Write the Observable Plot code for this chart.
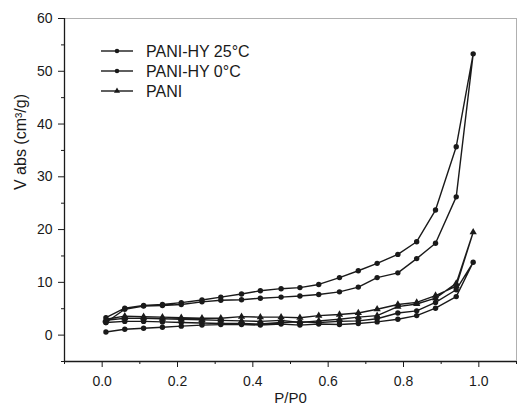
<!DOCTYPE html>
<html><head><meta charset="utf-8">
<script src="https://cdn.jsdelivr.net/npm/d3@7"></script>
<script src="https://cdn.jsdelivr.net/npm/@observablehq/plot@0.6"></script>
<style>
body{margin:0;background:#fff}
#chart{width:517px;height:409px}
</style>
</head><body><div id="chart"></div>
<script>
// Relative pressure P/P0 sampling points (shared by all branches)
const pressure = [0.01, 0.06, 0.11, 0.16, 0.21, 0.265, 0.315, 0.37, 0.42, 0.475, 0.525, 0.575, 0.63, 0.68, 0.73, 0.785, 0.835, 0.885, 0.94, 0.985];

// PANI-HY 25°C
const hy25Adsorption = [2.4, 4.9, 5.5, 5.6, 5.8, 6.3, 6.6, 6.7, 7.0, 7.2, 7.4, 7.7, 8.2, 9.1, 10.9, 11.8, 14.5, 17.4, 26.2, 53.3];
const hy25Desorption = [3.3, 5.1, 5.6, 5.8, 6.15, 6.65, 7.2, 7.8, 8.4, 8.8, 9.0, 9.6, 10.9, 12.2, 13.6, 15.3, 17.7, 23.7, 35.7, 53.3];
// PANI-HY 0°C
const hy0Adsorption = [0.6, 1.1, 1.3, 1.5, 1.7, 1.9, 2.0, 2.0, 1.9, 2.1, 1.9, 2.1, 2.0, 2.2, 2.5, 3.0, 3.7, 5.1, 7.3, 13.8];
const hy0Desorption = [2.4, 2.6, 2.6, 2.5, 2.4, 2.3, 2.2, 2.2, 2.1, 2.4, 2.5, 2.4, 2.6, 2.7, 3.1, 4.2, 4.6, 6.2, 8.6, 13.8];
// PANI
const paniAdsorption = [2.8, 3.2, 3.2, 3.1, 3.0, 2.9, 2.8, 2.7, 2.6, 2.8, 2.4, 2.7, 3.0, 3.4, 3.7, 5.4, 5.9, 7.0, 9.8, 19.5];
const paniDesorption = [3.0, 3.6, 3.5, 3.4, 3.3, 3.2, 3.2, 3.5, 3.4, 3.4, 3.3, 3.7, 3.9, 4.2, 4.9, 5.8, 6.2, 7.5, 9.3, 19.5];

const seriesNames = ["PANI-HY 25°C", "PANI-HY 0°C", "PANI"];
const seriesSymbols = ["circle", "circle", "triangle"];
const yMajorTicks = [0, 10, 20, 30, 40, 50, 60];
const yMinorTicks = [-5, 5, 15, 25, 35, 45, 55];
const xMajorTicks = [0, 0.2, 0.4, 0.6, 0.8, 1.0];
const xMinorTicks = [-0.1, 0.1, 0.3, 0.5, 0.7, 0.9, 1.1];

// Build loop paths: adsorption up, desorption back down
function loop(name, ads, des) {
  const rows = [];
  pressure.forEach((p, i) => rows.push({series: name, p, v: ads[i]}));
  for (let i = pressure.length - 2; i >= 0; i--) rows.push({series: name, p: pressure[i], v: des[i]});
  return rows;
}
const data = [
  ...loop(seriesNames[0], hy25Adsorption, hy25Desorption),
  ...loop(seriesNames[1], hy0Adsorption, hy0Desorption),
  ...loop(seriesNames[2], paniAdsorption, paniDesorption)
];

const ink = "#1a1a1a";
const font = "Liberation Sans, Arial, sans-serif";

const chart = Plot.plot({
  width: 517,
  height: 409,
  marginLeft: 64,
  marginRight: 1,
  marginTop: 18,
  marginBottom: 48,
  style: {fontFamily: font, fontSize: "14px", color: "#1a1a1a", background: "#fff"},
  x: {domain: [-0.1, 1.1]},
  y: {domain: [-5, 60]},
  symbol: {domain: seriesNames, range: seriesSymbols},
  marks: [
    Plot.frame({stroke: "#b0b0b0"}),
    Plot.ruleX([-0.1], {stroke: ink, strokeWidth: 1.3}),
    Plot.ruleY([-5], {stroke: ink, strokeWidth: 1.3}),
    Plot.axisY({ticks: yMajorTicks, tickSize: 6, tickPadding: 6, label: null, tickFormat: d3.format("d"), fill: "#1a1a1a"}),
    Plot.axisY({ticks: yMinorTicks, tickSize: 3, text: null, label: null}),
    Plot.axisX({ticks: xMajorTicks, tickSize: 6, tickPadding: 9, label: null, tickFormat: d3.format(".1f"), fill: "#1a1a1a"}),
    Plot.axisX({ticks: xMinorTicks, tickSize: 3, text: null, label: null}),
    Plot.line(data, {x: "p", y: "v", z: "series", stroke: ink, strokeWidth: 1.4, curve: "linear"}),
    Plot.dot(data, {x: "p", y: "v", symbol: "series", fill: ink, stroke: "none", r: 2.7}),
    Plot.text(["V abs (cm³/g)"], {frameAnchor: "left", dx: -44, rotate: -90, text: d => d, fontSize: 16, fill: "#1a1a1a"}),
    Plot.text(["P/P0"], {frameAnchor: "bottom", dy: 41, text: d => d, fontSize: 15, fill: "#1a1a1a"})
  ]
});

// Legend inside the plot, top-left
const svg = d3.select(chart);
const lg = svg.append("g").attr("font-family", font).attr("font-size", 16).attr("fill", "#1a1a1a").attr("text-anchor", "start");
seriesNames.forEach((name, i) => {
  const y = 51 + i * 20;
  lg.append("line").attr("x1", 101).attr("x2", 133).attr("y1", y).attr("y2", y).attr("stroke", ink).attr("stroke-width", 1.4);
  const sym = seriesSymbols[i] === "triangle" ? d3.symbolTriangle : d3.symbolCircle;
  lg.append("path").attr("d", d3.symbol(sym, 16)()).attr("transform", `translate(117,${y})`).attr("fill", ink);
  lg.append("text").attr("x", 146).attr("y", y).attr("dy", "0.36em").attr("text-anchor", "start").text(name);
});

document.getElementById("chart").append(chart);
</script>
</body></html>
